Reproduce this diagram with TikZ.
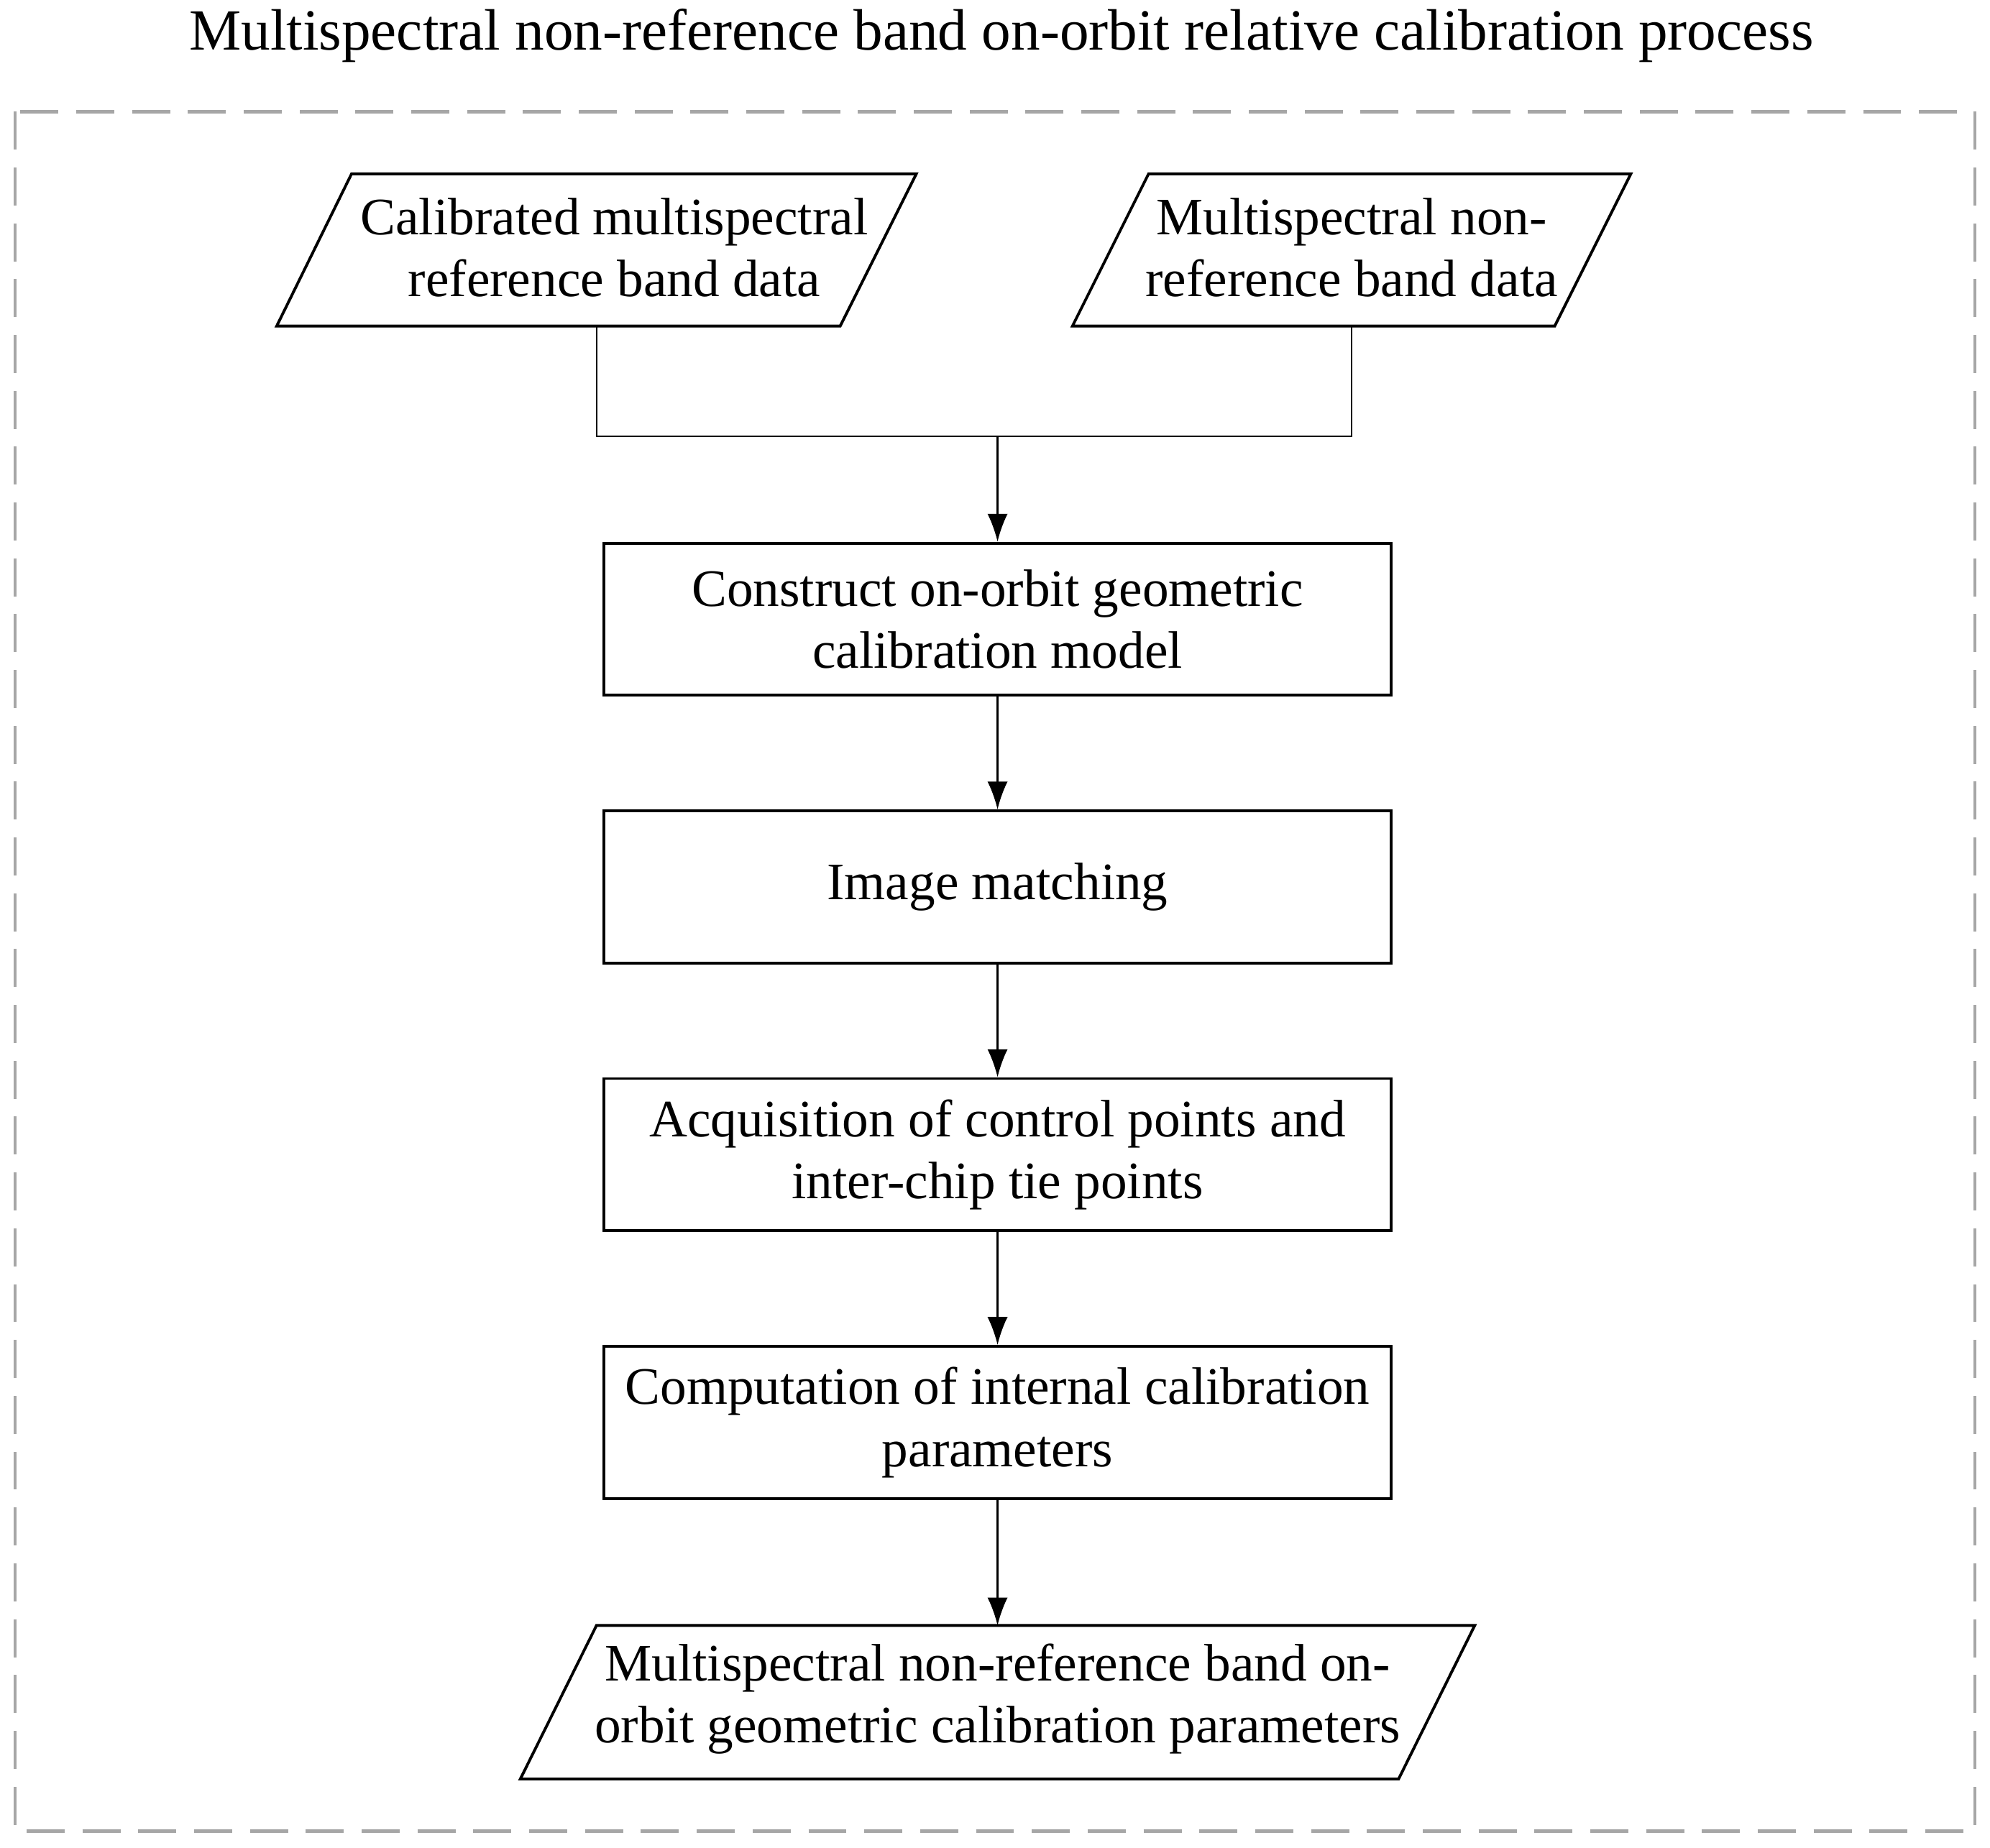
\documentclass[tikz,border=0pt]{standalone}
\usepackage{fontspec}
\setmainfont{Liberation Serif}
\usetikzlibrary{arrows.meta}
\begin{document}
\begin{tikzpicture}[x=1pt,y=-1pt,
  box/.style={draw,line width=2.2pt},
  txt/.style={align=center,font=\fontsize{41.5}{49}\selectfont},
  con/.style={line width=1.3pt},
  arr/.style={con,-{Latex[length=22pt,width=16pt]}}]
\useasboundingbox (0,0) rectangle (1568,1456);
\node[align=center,font=\fontsize{46}{50}\selectfont] (title) at (789,28) {Multispectral non-reference band on-orbit relative calibration process};
\draw[gray!70,line width=2.5pt,dash pattern=on 30pt off 14pt] (12,88) rectangle (1556,1443);
% input parallelograms
\draw[box] (218,257) -- (277,137) -- (722,137) -- (662,257) -- cycle;
\node[txt] (in1) at (484,195) {Calibrated multispectral\\reference band data};
\draw[box] (845,257) -- (905,137) -- (1285,137) -- (1225,257) -- cycle;
\node[txt] (in2) at (1065,195) {Multispectral non-\\reference band data};
\coordinate (b1) at (470,257);
\coordinate (b2) at (1065,257);
\coordinate (j) at (786,344);
% boxes
\node[box,txt,minimum width=620pt,minimum height=120pt] (s1) at (786,488) {Construct on-orbit geometric\\calibration model};
\node[box,txt,minimum width=620pt,minimum height=120pt] (s2) at (786,699) {Image matching};
\node[box,txt,minimum width=620pt,minimum height=120pt] (s3) at (786,910) {Acquisition of control points and\\inter-chip tie points};
\node[box,txt,minimum width=620pt,minimum height=120pt] (s4) at (786,1121) {Computation of internal calibration\\parameters};
\draw[box] (410,1402) -- (470,1281) -- (1162,1281) -- (1102,1402) -- cycle;
\node[txt] (out) at (786,1339) {Multispectral non-reference band on-\\orbit geometric calibration parameters};
\coordinate (o) at (786,1281);
\draw[con] (b1) |- (j) -| (b2);
\draw[arr] (j) -- (s1.north);
\draw[arr] (s1) -- (s2);
\draw[arr] (s2) -- (s3);
\draw[arr] (s3) -- (s4);
\draw[arr] (s4) -- (o);
\end{tikzpicture}
\end{document}
